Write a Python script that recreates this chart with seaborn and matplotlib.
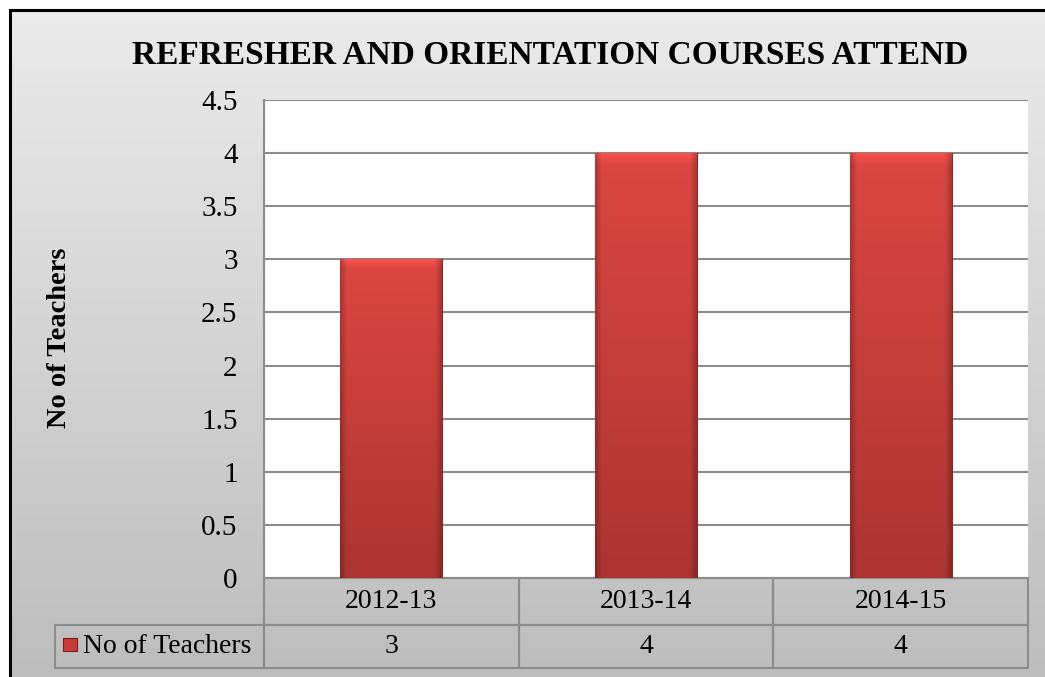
import numpy as np
import pandas as pd
import seaborn as sns
import matplotlib.pyplot as plt
from matplotlib.patches import Rectangle
from matplotlib.colors import LinearSegmentedColormap, to_rgb

years = ["2012-13", "2013-14", "2014-15"]
teachers = [3, 4, 4]
series_name = "No of Teachers"
title = "REFRESHER AND ORIENTATION COURSES ATTEND"
yticks = [0, 0.5, 1, 1.5, 2, 2.5, 3, 3.5, 4, 4.5]

df = pd.DataFrame({"Year": years, series_name: teachers})

sns.set_theme(style="white")
plt.rcParams["font.family"] = ["Liberation Serif", "DejaVu Serif"]
plt.rcParams["text.color"] = "black"

W, H = 1045, 677
fig = plt.figure(figsize=(W / 100, H / 100), dpi=100)


def fx(px):
    return px / W


def fy(py):
    return 1 - py / H


# grey gradient chart background
bg = fig.add_axes([fx(10), 0, 1 - fx(10), fy(10)])
bg_cmap = LinearSegmentedColormap.from_list("bg", ["#ebebeb", "#bdbdbd"])
bg.imshow(np.linspace(0, 1, 256).reshape(-1, 1), cmap=bg_cmap, aspect="auto",
          extent=[0, 1, 0, 1])
bg.axis("off")

# frame
fig.add_artist(Rectangle((fx(10), -0.05), 1.1, fy(10) + 0.05, transform=fig.transFigure,
                         fill=False, ec="black", lw=2.2))

# plot area
ax = fig.add_axes([fx(264), fy(578), (1028 - 264) / W, (578 - 100) / H])
ax.set_facecolor("white")
sns.barplot(data=df, x="Year", y=series_name, color="#c83c38", width=0.4, ax=ax,
            zorder=3, edgecolor="#8a2a27", linewidth=0.8)

# shaded bars
top_c, bot_c = np.array(to_rgb("#dc4742")), np.array(to_rgb("#ac3431"))
rows, cols = 300, 60
t = np.linspace(0, 1, rows)[:, None, None]
base = top_c * (1 - t) + bot_c * t
xs = np.linspace(0, 1, cols)
edge = np.clip(np.minimum(xs, 1 - xs) / 0.06, 0, 1) * 0.22 + 0.78
shade = base * edge[None, :, None]
hl = np.clip(1 - np.arange(8) / 8, 0, 1) * 0.14 + 1
shade[:8] = np.clip(shade[:8] * hl[:, None, None], 0, 1)
for bar in list(ax.patches):
    x0, w, h = bar.get_x(), bar.get_width(), bar.get_height()
    im = ax.imshow(shade, extent=[x0, x0 + w, 0, h], aspect="auto",
                   zorder=4, interpolation="bilinear")
    im.set_clip_path(bar)

ax.set_xlim(-0.5, 2.5)
ax.set_ylim(0, 4.5)
ax.set_yticks(yticks)
ax.set_yticklabels([f"{v:g}" for v in yticks])
ax.yaxis.grid(True, color="#8c8c8c", lw=1.5)
ax.set_axisbelow(True)
ax.tick_params(axis="y", length=0, pad=19, labelsize=21, labelcolor="black")
ax.tick_params(axis="x", length=0, labelbottom=False)
ax.set_xlabel("")
ax.set_ylabel("")
for side in ["top", "right", "bottom"]:
    ax.spines[side].set_visible(False)
ax.spines["left"].set_color("#8c8c8c")
ax.spines["left"].set_linewidth(1.5)

# data table (bbox covers the data columns; the row label sits to the left)
tbl = ax.table(cellText=[[str(v) for v in teachers]], rowLabels=[series_name],
               colLabels=years, cellLoc="center", rowLoc="left",
               colWidths=[1 / 3] * 3,
               bbox=[0, -(668 - 578) / 478, 1, 90 / 478])
tbl._autoColumns = []
tbl.auto_set_font_size(False)
tbl.set_fontsize(20)
for (r, c), cell in tbl.get_celld().items():
    cell.set_edgecolor("#8c8c8c")
    cell.set_linewidth(1.5)
    cell.set_facecolor("none")
    cell.set_height((47 if r == 0 else 43) / 478)
    cell.get_text().set_color("black")
    if c == -1:
        cell.set_width(209 / 764)
        cell.PAD = 0.134

# legend key
fig.add_artist(Rectangle((fx(63), fy(651)), fx(14), 13 / H, transform=fig.transFigure,
                         fc="#c83c38", ec="#7a1f1d", lw=0.8))

fig.text(fx(550), fy(55), title, ha="center", va="center", fontsize=24, fontweight="bold")
fig.text(fx(60), fy(338), series_name, rotation=90, ha="center", va="center",
         fontsize=20.5, fontweight="bold")

fig.savefig("out.png", dpi=100)
